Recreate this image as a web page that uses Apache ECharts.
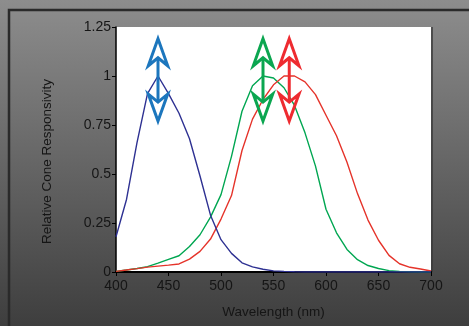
<!DOCTYPE html>
<html>
<head>
<meta charset="utf-8">
<script src="https://cdn.jsdelivr.net/npm/echarts@6/dist/echarts.min.js"></script>
<style>
  html, body { margin: 0; padding: 0; }
  #chart { width: 469px; height: 326px; }
</style>
</head>
<body>
<div id="chart"></div>
<script>
// wavelengths in nm, 10 nm steps
const wavelengths = [400, 410, 420, 430, 440, 450, 460, 470, 480, 490, 500, 510, 520, 530, 540, 550,
  560, 570, 580, 590, 600, 610, 620, 630, 640, 650, 660, 670, 680, 690, 700];

// S cone (blue)
const sCone = [0.18, 0.37, 0.66, 0.91, 1.0, 0.91, 0.81, 0.68, 0.49, 0.29, 0.165, 0.095, 0.047, 0.026, 0.014, 0.006,
  0.003, 0.001, 0, 0, 0, 0, 0, 0, 0, 0, 0, 0, 0, 0, 0];
// M cone (green)
const mCone = [0.003, 0.01, 0.018, 0.027, 0.045, 0.064, 0.083, 0.13, 0.19, 0.28, 0.395, 0.59, 0.82, 0.95, 1.0, 0.99,
  0.94, 0.85, 0.71, 0.54, 0.32, 0.2, 0.115, 0.063, 0.033, 0.018, 0.007, 0.003, 0.001, 0, 0];
// L cone (red)
const lCone = [0.003, 0.01, 0.017, 0.025, 0.03, 0.035, 0.041, 0.066, 0.105, 0.168, 0.27, 0.39, 0.62, 0.78, 0.88, 0.955,
  1.0, 1.0, 0.97, 0.905, 0.80, 0.695, 0.56, 0.40, 0.265, 0.162, 0.085, 0.042, 0.024, 0.015, 0.005];

// peak markers (double arrows)
const peakWavelengths = [440, 540, 565];
const arrowTop = [1.19, 1.19, 1.19];
const arrowBottom = [0.77, 0.77, 0.77];
const arrowColors = ['#1c76bd', '#0ba650', '#ee2b30'];

const yTicks = [0, 0.25, 0.5, 0.75, 1, 1.25];

const font = 'Liberation Sans, Arial, sans-serif';
const txt = '#151515';

function pairs(vals) {
  return wavelengths.map((w, i) => [w, vals[i]]);
}

// open arrow head: tip, two corners, notch on the shaft
function head(tip, dir, color) {
  const len = 27, half = 9.7, notch = 19;
  const cy = tip[1] + dir * len, ny = tip[1] + dir * notch;
  return {
    type: 'polygon',
    shape: { points: [tip, [tip[0] + half, cy], [tip[0], ny], [tip[0] - half, cy]] },
    style: { fill: 'none', stroke: color, lineWidth: 3, lineJoin: 'miter' }
  };
}

function renderArrow(params, api) {
  const w = api.value(0);
  const top = api.coord([w, api.value(1)]);
  const bot = api.coord([w, api.value(2)]);
  const color = arrowColors[params.dataIndex];
  return {
    type: 'group',
    children: [
      {
        type: 'line',
        shape: { x1: top[0], y1: top[1] + 19, x2: bot[0], y2: bot[1] - 19 },
        style: { stroke: color, lineWidth: 3 }
      },
      head(top, 1, color),
      head(bot, -1, color)
    ]
  };
}

const chart = echarts.init(document.getElementById('chart'));

const option = {
  animation: false,
  backgroundColor: new echarts.graphic.LinearGradient(0, 0, 0, 1, [
    { offset: 0, color: '#8d8d8d' },
    { offset: 1, color: '#3e3e3e' }
  ]),
  graphic: [
    {
      type: 'rect',
      shape: { x: 9, y: 10, width: 480, height: 340 },
      style: { fill: 'none', stroke: '#2a2a2a', lineWidth: 2.5 },
      silent: true
    },
    {
      type: 'line',
      shape: { x1: 432, y1: 27, x2: 432, y2: 272 },
      style: { stroke: '#3a3a3a', lineWidth: 1.5 },
      silent: true
    }
  ],
  grid: {
    left: 116,
    right: 38,
    top: 27,
    bottom: 54,
    show: true,
    backgroundColor: '#ffffff',
    borderWidth: 0
  },
  xAxis: {
    type: 'value',
    min: 400,
    max: 700,
    interval: 50,
    name: 'Wavelength (nm)',
    nameLocation: 'middle',
    nameGap: 33,
    nameTextStyle: { color: txt, fontSize: 13.5, fontFamily: font },
    axisLine: { show: true, lineStyle: { color: '#000', width: 2 } },
    axisTick: { show: true, length: 4, lineStyle: { color: '#000', width: 1 } },
    axisLabel: { color: txt, fontSize: 14, fontFamily: font, margin: 7 },
    splitLine: { show: false }
  },
  yAxis: {
    type: 'value',
    min: 0,
    max: 1.25,
    interval: 0.25,
    name: 'Relative Cone Responsivity',
    nameLocation: 'middle',
    nameGap: 62,
    nameTextStyle: { color: txt, fontSize: 13.5, fontFamily: font, padding: [0, 24, 0, 0] },
    axisLine: { show: true, lineStyle: { color: '#000', width: 1.5 } },
    axisTick: { show: true, length: 4, lineStyle: { color: '#000', width: 1 } },
    axisLabel: {
      color: txt, fontSize: 14, fontFamily: font, margin: 5,
      formatter: v => String(yTicks.find(t => Math.abs(t - v) < 1e-9) ?? v)
    },
    splitLine: { show: false }
  },
  series: [
    {
      type: 'line', name: 'S', data: pairs(sCone), symbol: 'none', z: 3,
      lineStyle: { color: '#2e3192', width: 1.4 }
    },
    {
      type: 'line', name: 'M', data: pairs(mCone), symbol: 'none', z: 2,
      lineStyle: { color: '#00a651', width: 1.4 }
    },
    {
      type: 'line', name: 'L', data: pairs(lCone), symbol: 'none', z: 2,
      lineStyle: { color: '#e5332a', width: 1.4 }
    },
    {
      type: 'custom', name: 'peaks', z: 5,
      renderItem: renderArrow,
      data: peakWavelengths.map((w, i) => [w, arrowTop[i], arrowBottom[i]])
    }
  ]
};

chart.setOption(option);
</script>
</body>
</html>
